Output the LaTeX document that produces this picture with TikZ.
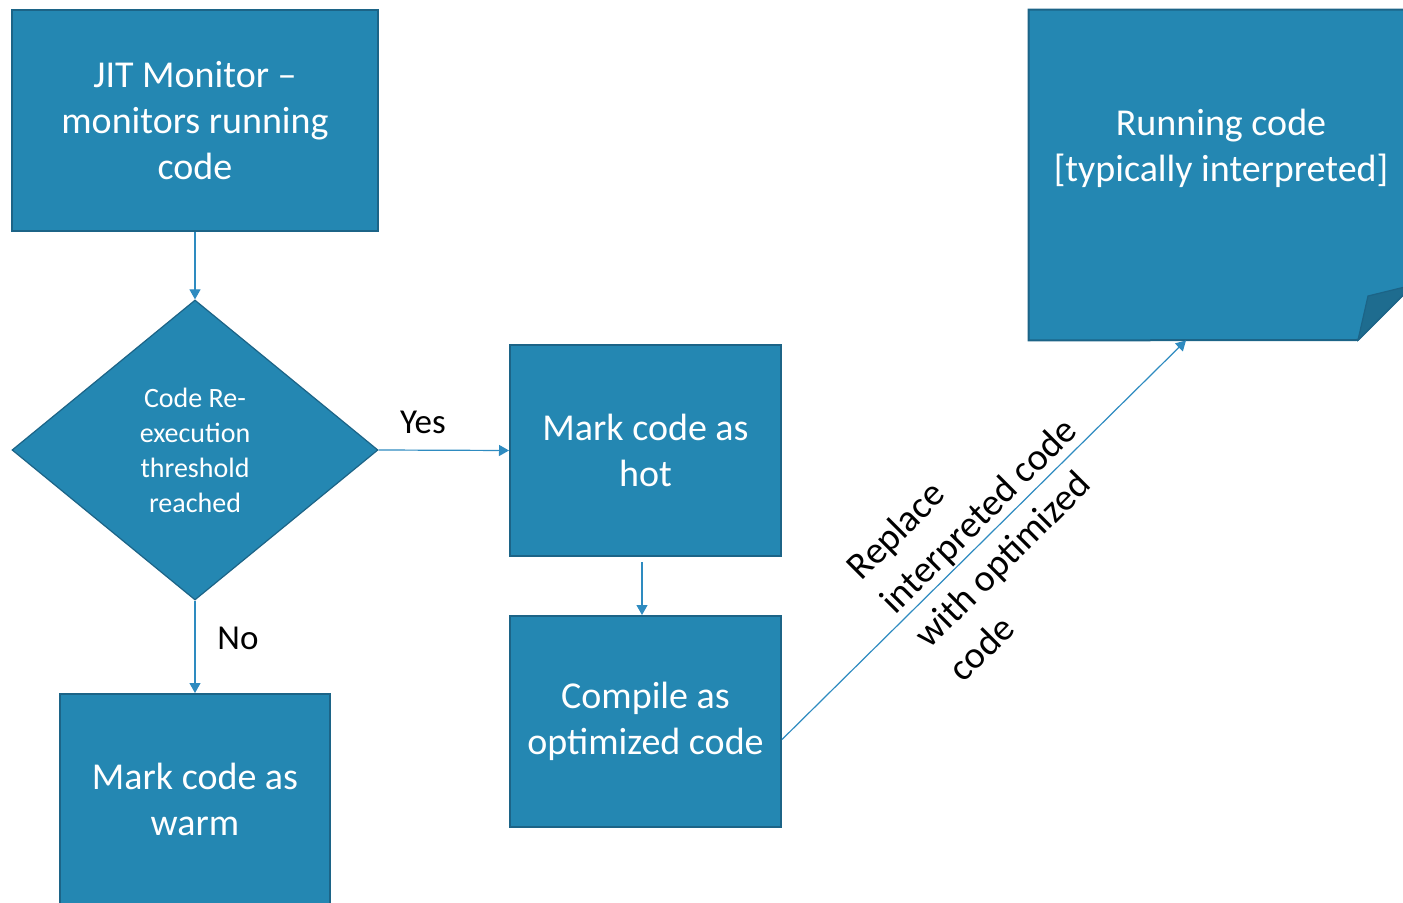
\documentclass[tikz,border=0pt]{standalone}
\usepackage{fontspec}
\setmainfont{Carlito}
\usetikzlibrary{shapes.geometric,arrows.meta,calc}
\definecolor{boxfill}{RGB}{36,135,178}
\definecolor{boxline}{RGB}{28,100,135}
\definecolor{foldc}{RGB}{30,108,143}
\definecolor{arrowc}{RGB}{46,139,192}
\begin{document}
\begin{tikzpicture}[x=0.5pt,y=-0.5pt,
  box/.style={rectangle,draw=boxline,line width=1pt,fill=boxfill,text=white,align=center,font=\fontsize{19}{23}\selectfont,inner sep=0pt},
  dec/.style={diamond,draw=boxline,line width=0.6pt,fill=boxfill,text=white,align=center,font=\fontsize{14}{17.5}\selectfont,inner sep=0pt,minimum width=183pt,minimum height=150pt},
  conn/.style={draw=arrowc,line width=0.6pt,-{Triangle[length=5pt,width=5.5pt]}},
  lbl/.style={text=black,font=\fontsize{17.5}{21}\selectfont,inner sep=0pt}]
\useasboundingbox (0,0) rectangle (1403,903);
\node[box,minimum width=183pt,minimum height=110.5pt] (jit) at (195,120.5) {JIT Monitor –\\monitors running\\code};
\node[dec] (dia) at (195,450) {Code Re-\\execution\\threshold\\reached};
\node[box,minimum width=135.5pt,minimum height=105.5pt] (hot) at (645.5,450.5) {Mark code as\\hot};
\node[box,minimum width=135.5pt,minimum height=105.5pt] (comp) at (645.5,721.5) {Compile as\\optimized code};
\node[box,minimum width=135pt,minimum height=105.5pt] (warm) at (195,799.5) {Mark code as\\warm};
\node[minimum width=192pt,minimum height=165pt,inner sep=0pt] (rc) at (1221,175) {};
\filldraw[fill=boxfill,draw=boxline,line width=1pt] (rc.north west) -- (rc.north east) -- (1413,285) -- (1358,340) -- (rc.south west) -- cycle;
\filldraw[fill=foldc,draw=boxline,line width=0.6pt] (1358,340) -- (1368,296) -- (1413,285) -- cycle;
\node[text=white,font=\fontsize{19}{23}\selectfont,align=center,inner sep=0pt] (rct) at (1221,148) {Running code\\{[typically interpreted]}};
\draw[conn] (jit.south) -- (dia.north);
\draw[conn] (dia.east) -- (hot.west);
\draw[conn] (dia.south) -- (warm.north);
\draw[conn] ([xshift=-1.75pt,yshift=-2.5pt]hot.south) -- ([xshift=-1.75pt]comp.north);
\draw[conn] ([yshift=-9pt]comp.east) -- ([xshift=-17.5pt]rc.south);
\node[lbl] (yes) at (423,422) {Yes};
\node[lbl] (no) at (238,638) {No};
\node[lbl,font=\fontsize{19}{24}\selectfont,rotate=45,align=left] (repl) at (995,532) {Replace\\interpreted code\\with optimized\\code};
\end{tikzpicture}
\end{document}
